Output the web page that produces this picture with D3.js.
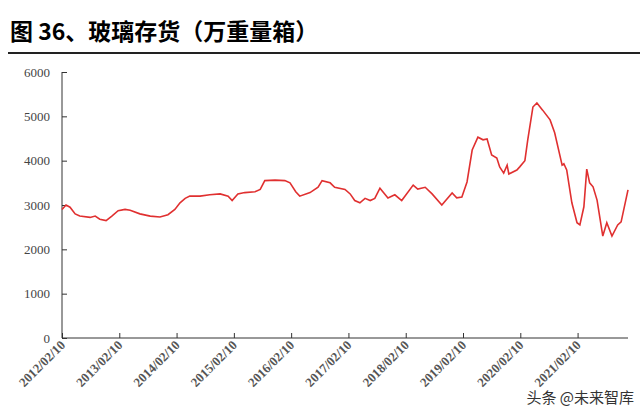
<!DOCTYPE html>
<html>
<head>
<meta charset="utf-8">
<style>
    body { margin: 0; background: #fff; font-family: "Liberation Serif", serif; }
</style>
</head>
<body>
<script src="https://cdn.jsdelivr.net/npm/d3@7/dist/d3.min.js"></script>
<script>
// years since 2012/02/10
var t = [0,.07,.14,.23,.31,.49,.58,.66,.77,.87,.98,1.10,1.19,1.36,1.54,1.71,1.85,1.97,2.06,2.15,2.23,2.41,2.58,2.76,2.90,2.97,3.07,3.19,3.37,3.46,3.54,3.72,3.89,3.98,4.08,4.15,4.33,4.47,4.54,4.68,4.76,4.94,5.03,5.11,5.20,5.29,5.38,5.46,5.55,5.69,5.81,5.93,6.13,6.21,6.34,6.46,6.63,6.81,6.89,6.98,7.07,7.16,7.26,7.35,7.42,7.50,7.59,7.64,7.71,7.77,7.80,7.94,7.99,8.08,8.13,8.22,8.29,8.39,8.52,8.60,8.73,8.76,8.81,8.90,8.99,9.04,9.11,9.16,9.21,9.27,9.34,9.44,9.51,9.60,9.70,9.76,9.88];
var inventory = [2900,3000,2950,2800,2750,2720,2750,2680,2650,2750,2870,2900,2880,2800,2750,2730,2780,2900,3050,3150,3200,3200,3230,3250,3200,3100,3250,3280,3300,3350,3550,3560,3550,3500,3300,3200,3280,3400,3550,3500,3400,3350,3250,3100,3050,3150,3100,3150,3380,3160,3230,3100,3450,3360,3400,3250,3000,3270,3160,3180,3520,4240,4530,4470,4490,4130,4060,3860,3720,3900,3700,3790,3860,4000,4470,5210,5300,5140,4920,4630,3900,3930,3790,3050,2600,2550,2960,3810,3500,3410,3110,2300,2600,2300,2550,2620,3340];
var tickLabels = ["2012/02/10","2013/02/10","2014/02/10","2015/02/10","2016/02/10","2017/02/10","2018/02/10","2019/02/10","2020/02/10","2021/02/10"];
var yTicks = [0,1000,2000,3000,4000,5000,6000];

var svg = d3.select("body").append("svg").attr("width",640).attr("height",416);

svg.append("text").attr("x",10).attr("y",40)
    .style("font-family","'Noto Sans CJK SC'").style("font-weight","bold").style("font-size","23px")
    .text("图 36、玻璃存货（万重量箱）");
svg.append("rect").attr("x",8).attr("y",52).attr("width",632).attr("height",2).attr("fill","#222");

var x = d3.scaleLinear().domain([0,9.88]).range([62,628]);
var y = d3.scaleLinear().domain([0,6000]).range([338,72]);

var xa = svg.append("g").attr("transform","translate(0,338)")
    .call(d3.axisBottom(x).tickValues(d3.range(tickLabels.length)).tickFormat((d,i)=>tickLabels[i]).tickSize(-5).tickSizeOuter(0))
    .attr("font-family","'Liberation Serif'");
xa.select(".domain").attr("stroke","#333").attr("d","M62,0H628");
xa.selectAll("line").attr("stroke","#333");
xa.selectAll("text").attr("transform","rotate(-45)").attr("text-anchor","end")
    .attr("dx","-3").attr("dy","8").attr("y",0).attr("x",0)
    .style("font-size","13px").style("font-weight","bold").attr("fill","#555");

var ya = svg.append("g").attr("transform","translate(62,0)")
    .call(d3.axisLeft(y).tickValues(yTicks).tickFormat(d3.format("d")).tickSize(5).tickSizeOuter(0))
    .attr("font-family","'Liberation Serif'");
ya.selectAll("line").attr("stroke","#333");
ya.select(".domain").attr("stroke","#333").attr("d","M0,338V72");
ya.selectAll("line").attr("x2",5);
ya.selectAll("text").attr("x",-12).style("font-size","13px").attr("fill","#444");

svg.append("path").datum(t)
    .attr("fill","none").attr("stroke","#e03030").attr("stroke-width",1.6)
    .attr("d", d3.line().x(d=>x(d)).y((d,i)=>y(inventory[i])));

svg.append("text").attr("x",634).attr("y",403).attr("text-anchor","end")
    .style("font-family","'Noto Sans CJK SC'").style("font-size","15px").attr("fill","#333")
    .text("头条 @未来智库");
</script>
</body>
</html>
